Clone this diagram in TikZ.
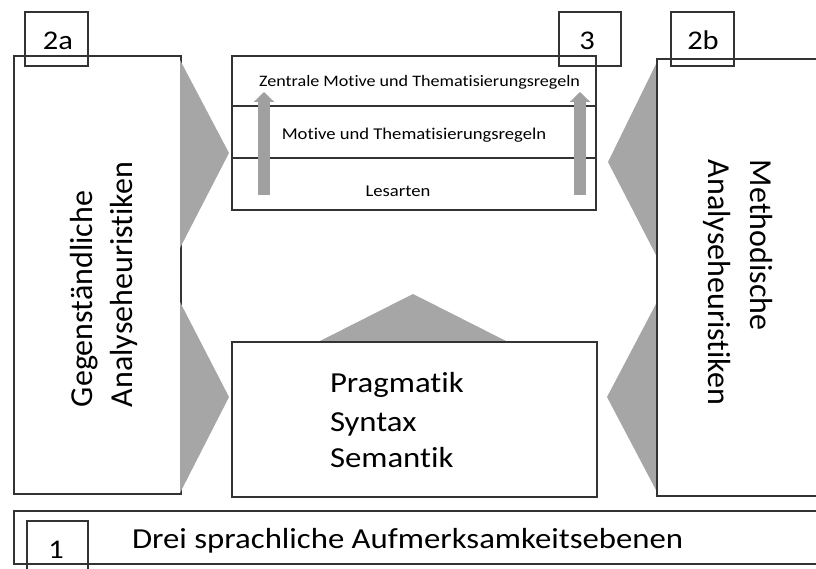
\documentclass[tikz,border=0pt]{standalone}
\usepackage{fontspec}
\usepackage{graphicx}
\setmainfont{Carlito}[Ligatures=NoCommon]
\usetikzlibrary{arrows.meta}
\definecolor{lc}{HTML}{333333}
\definecolor{tg}{HTML}{A6A6A6}
\definecolor{ag}{HTML}{A0A0A0}
\newcommand{\hs}[1]{\scalebox{1.13}[1]{#1}}
\newcommand{\fs}[1]{\fontsize{#1}{#1}\selectfont}
\begin{document}
\begin{tikzpicture}[x=1pt,y=-1pt,
  box/.style={draw=lc, line width=1.5pt, rectangle, inner sep=0pt, outer sep=0pt},
  tri/.style={fill=tg, draw=none},
  garrow/.style={draw=ag, line width=12pt, -{Triangle[width=20pt,length=10pt]}},
  txt/.style={inner sep=0pt, outer sep=0pt, text=black}]
\useasboundingbox (0,0) rectangle (816,569);

% triangles drawn below boxes
\fill[tri] (657,62) -- (608,162) -- (657,257) -- cycle;
\fill[tri] (657,302) -- (607,397) -- (657,492) -- cycle;
\fill[tri] (318,342) -- (413,294) -- (508,342) -- cycle;

% main boxes
\node[box, minimum width=167pt, minimum height=438pt] (L) at (97.5,275) {};
\node[box, minimum width=364pt, minimum height=154pt] (T) at (414,133) {};
\node[box, minimum width=365pt, minimum height=155pt] (B) at (414.5,419.5) {};
\node[box, minimum width=180pt, minimum height=437pt] (R) at (747,277.5) {};
\node[box, minimum width=830pt, minimum height=53pt] (band) at (429,537.5) {};

% left triangles cover the right edge of the left box
\fill[tri] (180,60) -- (229,153) -- (180,248) -- cycle;
\fill[tri] (180,302) -- (229,397) -- (180,493) -- cycle;

% separators in top box
\draw[draw=lc, line width=1.5pt] (T.west |- 0,106) -- (T.east |- 0,106);
\draw[draw=lc, line width=1.5pt] (T.west |- 0,158) -- (T.east |- 0,158);

% gray arrows
\coordinate (a1s) at (264,195);
\coordinate (a1e) at (264,92);
\coordinate (a2s) at (580,195);
\coordinate (a2e) at (580,92);
\draw[garrow] (a1s) -- (a1e);
\draw[garrow] (a2s) -- (a2e);

% number labels
\node[box, minimum width=63pt, minimum height=54pt] (l2a) at (56.5,39) {};
\node[box, minimum width=62pt, minimum height=54pt] (l3) at (590,39) {};
\node[box, minimum width=63pt, minimum height=54pt] (l2b) at (702.5,39) {};
\node[box, minimum width=61pt, minimum height=60pt] (l1) at (57.5,551) {};
\node[txt, anchor=base] (t2a) at (58,50) {\fs{27}\hs{2a}};
\node[txt, anchor=base] (t3) at (587,50) {\fs{27}\hs{3}};
\node[txt, anchor=base] (t2b) at (703,50) {\fs{27}\hs{2b}};
\node[txt, anchor=base] (t1) at (56,558) {\fs{27}\hs{1}};

% top box texts
\node[txt, anchor=base] (tz) at (419.5,87) {\fs{16}\hs{Zentrale Motive und Thematisierungsregeln}};
\node[txt, anchor=base] (tm) at (414,140) {\fs{16.5}\hs{Motive und Thematisierungsregeln}};
\node[txt, anchor=base] (tl) at (398,197) {\fs{16.5}\hs{Lesarten}};

% bottom box texts
\node[txt, anchor=base west] (tp) at (330,392) {\fs{29}\hs{Pragmatik}};
\node[txt, anchor=base west] (ts) at (330,431) {\fs{29}\hs{Syntax}};
\node[txt, anchor=base west] (tse) at (330,467) {\fs{29}\hs{Semantik}};

% band text
\node[txt, anchor=base west] (td) at (132,548) {\fs{29}\hs{Drei sprachliche Aufmerksamkeitsebenen}};

% rotated texts
\node[txt, anchor=base west, rotate=90] (tg1) at (92,407) {\fs{32}Gegenständliche};
\node[txt, anchor=base west, rotate=90] (tg2) at (132,407) {\fs{32}Analyseheuristiken};
\node[txt, anchor=base west, rotate=-90] (tm1) at (750,160) {\fs{32}Methodische};
\node[txt, anchor=base west, rotate=-90] (tm2) at (708,160) {\fs{32}Analyseheuristiken};
\end{tikzpicture}
\end{document}
